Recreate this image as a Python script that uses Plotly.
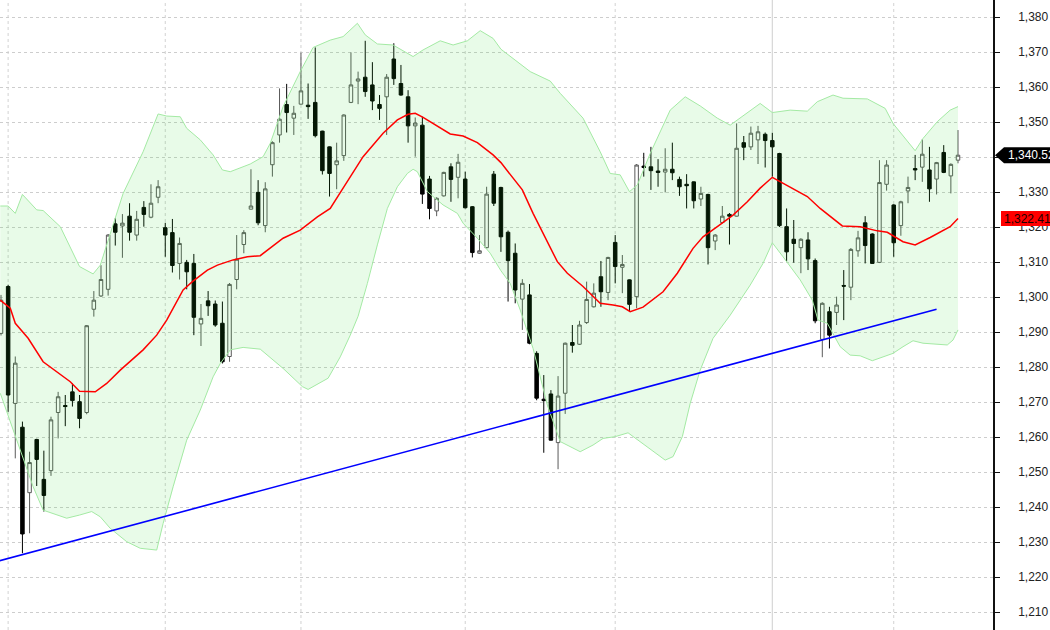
import plotly.graph_objects as go

# ---- OHLC data (one candle per trading day, index 0..134) ----
opens = [1289.6,1303.0,1269.6,1262.8,1244.1,1259.3,1247.9,1250.4,1267.0,1269.0,
         1272.9,1270.1,1267.0,1296.5,1300.3,1302.2,1320.9,1320.3,1323.1,1317.7,
         1325.6,1322.8,1328.5,1319.8,1318.4,1309.6,1309.9,1309.6,1292.3,1298.9,
         1298.0,1292.5,1283.0,1305.0,1315.0,1325.1,1329.9,1320.4,1337.8,1346.3,
         1355.0,1351.1,1355.1,1354.8,1355.6,1347.4,1342.9,1337.8,1340.4,1355.6,
         1361.7,1362.8,1360.6,1355.0,1357.2,1368.0,1361.0,1357.2,1348.9,1349.1,
         1333.7,1324.6,1328.9,1337.2,1334.2,1333.7,1325.8,1312.5,1314.1,1335.1,
         1331.3,1318.5,1312.5,1299.4,1300.6,1283.9,1270.8,1272.3,1258.4,1272.5,
         1287.0,1286.5,1292.7,1297.2,1305.8,1301.3,1315.6,1308.5,1304.9,1300.1,
         1337.4,1337.2,1336.0,1335.7,1336.5,1333.6,1332.2,1332.9,1328.0,1329.3,
         1316.0,1321.3,1323.6,1323.1,1344.1,1342.9,1344.9,1346.5,1344.7,1341.0,
         1320.1,1316.5,1314.1,1316.3,1310.4,1287.9,1295.8,1295.6,1303.3,1302.8,
         1313.2,1321.2,1318.0,1309.9,1332.2,1326.3,1320.4,1330.3,1336.7,1337.1,
         1336.3,1333.7,1341.3,1334.6,1339.1]
highs = [1300.6,1303.5,1283.0,1264.4,1255.8,1259.5,1256.1,1265.8,1272.9,1272.0,
         1275.3,1272.0,1292.0,1301.7,1309.1,1318.0,1322.5,1323.7,1326.8,1324.6,
         1327.4,1332.2,1333.4,1321.2,1322.3,1317.0,1310.6,1312.3,1298.0,1301.7,
         1299.0,1298.7,1304.0,1317.7,1319.1,1336.5,1333.4,1332.8,1344.5,1359.6,
         1360.9,1354.6,1369.8,1361.0,1371.3,1347.5,1343.0,1344.1,1352.2,1369.9,
         1364.4,1373.2,1367.1,1357.7,1363.7,1372.5,1366.3,1359.1,1351.3,1351.5,
         1334.6,1328.5,1335.8,1338.2,1340.9,1335.8,1326.0,1317.7,1331.5,1336.0,
         1331.5,1319.0,1315.3,1305.1,1303.7,1284.5,1277.7,1273.4,1277.4,1287.0,
         1292.0,1293.2,1304.4,1303.9,1310.3,1311.5,1317.7,1312.0,1305.0,1338.0,
         1341.2,1342.9,1339.4,1342.5,1344.1,1334.4,1335.1,1333.0,1331.5,1329.5,
         1318.0,1326.0,1324.0,1349.6,1346.0,1348.7,1348.9,1347.0,1346.9,1341.2,
         1325.3,1322.0,1316.8,1318.5,1311.0,1298.5,1297.2,1300.1,1307.7,1314.0,
         1318.9,1323.1,1318.2,1339.1,1339.1,1326.5,1327.5,1334.4,1340.6,1345.1,
         1342.9,1338.6,1343.4,1338.2,1347.7]
lows = [1289.0,1267.2,1253.9,1226.8,1232.5,1246.0,1238.7,1248.9,1259.6,1263.1,
        1268.7,1262.5,1266.5,1294.4,1300.0,1300.4,1314.7,1311.2,1316.1,1316.1,
        1320.1,1322.5,1326.8,1311.5,1307.0,1305.0,1302.2,1289.1,1286.0,1294.6,
        1291.5,1281.0,1281.5,1302.2,1312.5,1325.0,1320.5,1318.5,1334.4,1344.1,
        1347.0,1346.3,1355.0,1350.9,1345.6,1335.0,1328.7,1330.8,1338.9,1355.4,
        1355.1,1357.2,1353.4,1350.6,1346.3,1360.6,1357.5,1344.1,1340.1,1326.6,
        1322.2,1323.1,1328.7,1327.2,1328.2,1325.3,1311.3,1312.3,1313.9,1326.0,
        1312.9,1298.7,1298.2,1290.6,1286.5,1270.5,1255.5,1259.0,1250.8,1266.6,
        1284.1,1286.3,1292.3,1297.0,1297.2,1299.1,1303.9,1301.1,1296.0,1296.8,
        1334.4,1330.6,1331.5,1329.9,1333.4,1328.9,1325.3,1325.3,1326.0,1309.3,
        1313.4,1321.0,1315.0,1323.0,1339.1,1342.0,1338.0,1337.0,1334.4,1320.0,
        1310.1,1309.8,1306.8,1307.7,1292.5,1282.8,1285.3,1292.0,1293.4,1299.1,
        1311.5,1309.6,1309.5,1309.7,1330.4,1311.5,1317.5,1326.8,1333.4,1332.9,
        1327.2,1329.3,1335.4,1329.6,1338.2]
closes = [1299.1,1272.0,1281.1,1232.3,1252.7,1253.6,1243.3,1264.9,1271.5,1268.7,
          1270.4,1265.3,1291.8,1299.1,1305.0,1317.7,1318.5,1321.1,1318.5,1322.2,
          1323.6,1326.8,1331.5,1317.7,1309.0,1315.3,1307.2,1294.2,1293.9,1297.5,
          1292.0,1281.5,1303.6,1310.8,1318.4,1326.0,1321.2,1330.9,1344.1,1350.8,
          1352.7,1352.5,1358.9,1354.4,1346.1,1336.1,1335.3,1338.9,1352.0,1360.6,
          1362.3,1358.7,1356.0,1353.9,1362.8,1362.4,1357.7,1348.9,1349.7,1329.4,
          1325.3,1328.2,1335.6,1333.6,1338.5,1325.5,1312.7,1313.2,1329.4,1326.8,
          1317.2,1310.4,1302.0,1303.9,1286.8,1271.1,1270.4,1259.1,1271.7,1286.8,
          1286.2,1292.0,1299.3,1301.1,1301.5,1311.3,1308.7,1309.3,1297.9,1337.7,
          1337.0,1336.1,1335.6,1336.5,1335.5,1331.5,1331.8,1327.5,1329.6,1314.1,
          1317.7,1323.1,1323.1,1342.5,1342.8,1346.8,1347.2,1344.7,1342.9,1320.4,
          1312.9,1315.3,1316.5,1310.9,1293.2,1298.2,1289.1,1297.7,1303.1,1313.6,
          1316.9,1314.7,1309.6,1332.7,1337.7,1315.5,1327.2,1331.3,1336.3,1340.8,
          1330.9,1338.4,1335.6,1337.9,1340.52]
days = list(range(len(closes)))

# ---- Bollinger bands and moving average ----
ub_x = [-0.1,1,2,3,5,5.9,8.3,11,12.9,13.9,17.1,19.9,22,23.2,25.1,26,27.9,29.7,31,32.1,
        34.9,36.7,37.7,39.5,41.9,43.7,46.1,47.9,49.9,51,52.7,54.9,57.7,59.1,61.5,63.3,65.3,67.1,68.9,70,
        74.1,76.9,78.3,81.5,83.9,85.3,86.7,88,89.1,90.9,93.7,95.8,97.9,100.3,102.1,104.5,106.3,108,110.5,112.9,
        114.3,116.5,117.9,121.3,123.8,124.9,126.9,128,129.1,131.1,132.9,134]
ub_y = [1326,1326,1323.9,1329.3,1324.9,1324.7,1320.1,1308.7,1306.6,1309.1,1329.6,1341.5,1352.3,1351.7,1351.5,1348.2,1344.9,1340.6,1336.3,1335.8,
        1338,1340.1,1343.9,1354.4,1364.4,1371.3,1373.4,1374.4,1378.2,1374.9,1372.3,1372,1368.7,1370.6,1373.2,1372,1373.2,1376.1,1373.9,1370.8,
        1364.4,1361.7,1358.2,1351.1,1341.5,1335.3,1334.9,1330.1,1332,1341,1353.4,1357.2,1354.6,1351.1,1349.1,1352.5,1355.3,1352.7,1353.4,1353.1,
        1355.8,1357.7,1356.8,1356.6,1353.9,1349.6,1344.4,1341.8,1345.3,1350.1,1353.4,1354.4]
lb_x = [-0.1,4.5,5.9,9.2,11,12.7,13.9,15.3,17.6,19.5,21.8,22.7,24.1,26,27.9,29.7,30.7,32.1,33.9,36.3,
        39.5,42.2,43,45.8,47.5,48.9,50,51.3,52.7,54.1,55.5,56.9,57.7,58.3,59.7,61.9,63.9,64.7,66.7,68.5,
        70,71.3,72.7,74.5,76.5,78.3,81.1,82.9,84.3,86,87.8,90.5,93,94.1,95.4,96.5,97.9,99.7,102.1,103.5,
        104.9,106.7,108,109.5,111.9,113.6,114.4,115.7,117.5,118.9,120.3,122,123.5,124.9,126.3,127.7,129.1,130.5,132.5,133.3,134]
lb_y = [1272.5,1245.8,1239.1,1236.8,1237.7,1238.7,1237.2,1233.9,1230.1,1228.2,1227.7,1235.3,1245.8,1259.1,1267.7,1277.2,1281,1284.9,1285.6,1285.1,
        1279.6,1274.4,1273.6,1276.8,1282.9,1289.1,1294.5,1303.9,1314.9,1325.3,1331.5,1335.3,1336.5,1335.8,1330.1,1326.3,1323.9,1321.1,1316.8,1312.5,
        1307.5,1303.9,1296.3,1285.3,1269.1,1258.7,1255.8,1257.7,1259.6,1260.1,1261.2,1257.2,1253.4,1254.4,1260.1,1269.6,1279.1,1288.2,1294.8,1299.1,
        1303.4,1309.6,1315.5,1311.5,1304.9,1299.1,1293.4,1292.5,1285.8,1283.4,1283.2,1281.8,1282.9,1283.9,1285.8,1287.5,1286.8,1286.6,1286.3,1287.7,1290.6]
ma_x = [-0.1,1.3,2,3.8,5.9,7.8,9.7,11,13.2,14.8,16.7,19.9,21.8,23.2,24,25.5,26.8,28.9,30.3,32.5,
        34.5,36.3,39.5,41.9,44.3,46.1,47.9,50.7,53.5,55.5,57,58,59.1,61.1,62.9,64.7,66.7,68.9,70,73,
        74.5,77.9,79.3,81.5,83.9,85.7,87,88.1,89.9,92.7,94.7,96.9,98.3,100.3,102.5,104.5,106.3,108,109.5,112.9,
        114.7,117.8,120.3,122.7,124.1,126.3,128,130.1,132.9,134]
ma_y = [1299.1,1296.8,1292.5,1288.2,1281.5,1278.7,1275.8,1273.1,1272.9,1275.3,1279.1,1284.9,1289.1,1293.4,1296.3,1302,1304.4,1307.7,1309.1,1310.6,
        1311.5,1311.8,1316.8,1319.1,1322.9,1325.3,1331.1,1340.1,1346.8,1350.6,1352.2,1352.5,1351.3,1348.9,1346.6,1346,1344.1,1340.6,1338.4,1330.6,
        1323.9,1310.1,1306.8,1303,1298.2,1297.7,1297.2,1295.8,1297.1,1301.5,1306.8,1313.9,1317.2,1320.1,1323.4,1327.2,1331.1,1334.2,1332.5,1328.7,
        1325.3,1320.3,1320.1,1318.9,1318.5,1315.8,1314.9,1317,1320.1,1322.41]

# ---- trendline ----
trend_x = [-1, 131]
trend_y = [1224.2, 1296.5]

# ---- axis ----
y_ticks = list(range(1210, 1381, 10))
month_lines = [1, 23, 42, 65, 86, 125]
year_line = 108
last_close = 1340.52
last_ma = 1322.41

fig = go.Figure()

# band fill
fig.add_trace(go.Scatter(x=ub_x + lb_x[::-1], y=ub_y + lb_y[::-1], fill="toself",
                         fillcolor="rgba(40,215,40,0.105)", line=dict(width=0),
                         mode="lines", hoverinfo="skip", showlegend=False))
fig.add_trace(go.Scatter(x=ub_x, y=ub_y, mode="lines", line=dict(color="#a4eaa4", width=1),
                         showlegend=False, hoverinfo="skip"))
fig.add_trace(go.Scatter(x=lb_x, y=lb_y, mode="lines", line=dict(color="#a4eaa4", width=1),
                         showlegend=False, hoverinfo="skip"))
fig.add_trace(go.Scatter(x=ma_x, y=ma_y, mode="lines", line=dict(color="#ff0000", width=1.5),
                         showlegend=False))
fig.add_trace(go.Candlestick(x=days, open=opens, high=highs, low=lows, close=closes,
                             increasing=dict(fillcolor="#ffffff", line=dict(color="#5a5a5a", width=1)),
                             decreasing=dict(fillcolor="#000000", line=dict(color="#000000", width=1)),
                             showlegend=False))
fig.add_trace(go.Scatter(x=trend_x, y=trend_y, mode="lines", line=dict(color="#0000ff", width=1.6),
                         showlegend=False))

shapes = []
for m in month_lines:
    shapes.append(dict(type="line", xref="x", yref="paper", x0=m, x1=m, y0=0, y1=1,
                       line=dict(color="#d2d2d2", width=1, dash="dot"), layer="below"))
shapes.append(dict(type="line", xref="x", yref="paper", x0=year_line, x1=year_line, y0=0, y1=1,
                   line=dict(color="#d6d6d6", width=1.2), layer="below"))

# price tags at the right
W = 993.0
h1 = 8 / 3.5
shapes.append(dict(type="path", xref="paper", yref="y",
                   path=f"M {995/W} {last_close} L {1004/W} {last_close+h1} L {1060/W} {last_close+h1} "
                        f"L {1060/W} {last_close-h1} L {1004/W} {last_close-h1} Z",
                   fillcolor="#000000", line=dict(width=0), layer="above"))
h2 = 7.5 / 3.5
shapes.append(dict(type="rect", xref="paper", yref="y", x0=1001/W, x1=1060/W,
                   y0=last_ma - h2, y1=last_ma + h2, fillcolor="#ff0000", line=dict(width=0),
                   layer="above"))

annotations = [
    dict(xref="paper", yref="y", x=1006/W, y=last_close, xanchor="left", yanchor="middle",
         text=f"{last_close:,.2f}", showarrow=False,
         font=dict(family="Liberation Sans, Arial", size=12, color="#ffffff")),
    dict(xref="paper", yref="y", x=1002/W, y=last_ma, xanchor="left", yanchor="middle",
         text=f"{last_ma:,.2f}", showarrow=False,
         font=dict(family="Liberation Sans, Arial", size=12, color="#220000")),
]

fig.update_layout(
    width=1050, height=630, autosize=False,
    margin=dict(l=0, r=57, t=0, b=0, pad=0, autoexpand=False),
    paper_bgcolor="#ffffff", plot_bgcolor="#ffffff",
    shapes=shapes, annotations=annotations,
    font=dict(family="Liberation Sans, Arial", size=12, color="#222222"),
    xaxis=dict(range=[-0.14, 138.9], showgrid=False, showticklabels=False, zeroline=False,
               rangeslider=dict(visible=False), fixedrange=True, showline=False, ticks="",
               automargin=False),
    yaxis=dict(range=[1204.86, 1384.86], side="right", tickvals=y_ticks, automargin=False,
               tickformat=",d", showgrid=True, gridcolor="#cdcdcd", griddash="dot", gridwidth=1,
               showline=True, linecolor="#111111", linewidth=1.5, ticks="outside", ticklen=5,
               tickcolor="#111111", ticklabelstandoff=16, zeroline=False,
               tickfont=dict(family="Liberation Sans, Arial", size=12, color="#222222")),
)

fig.write_html("out.html", config={"displayModeBar": False},
               post_script="document.body.style.margin='0px';document.body.style.overflow='hidden';")
